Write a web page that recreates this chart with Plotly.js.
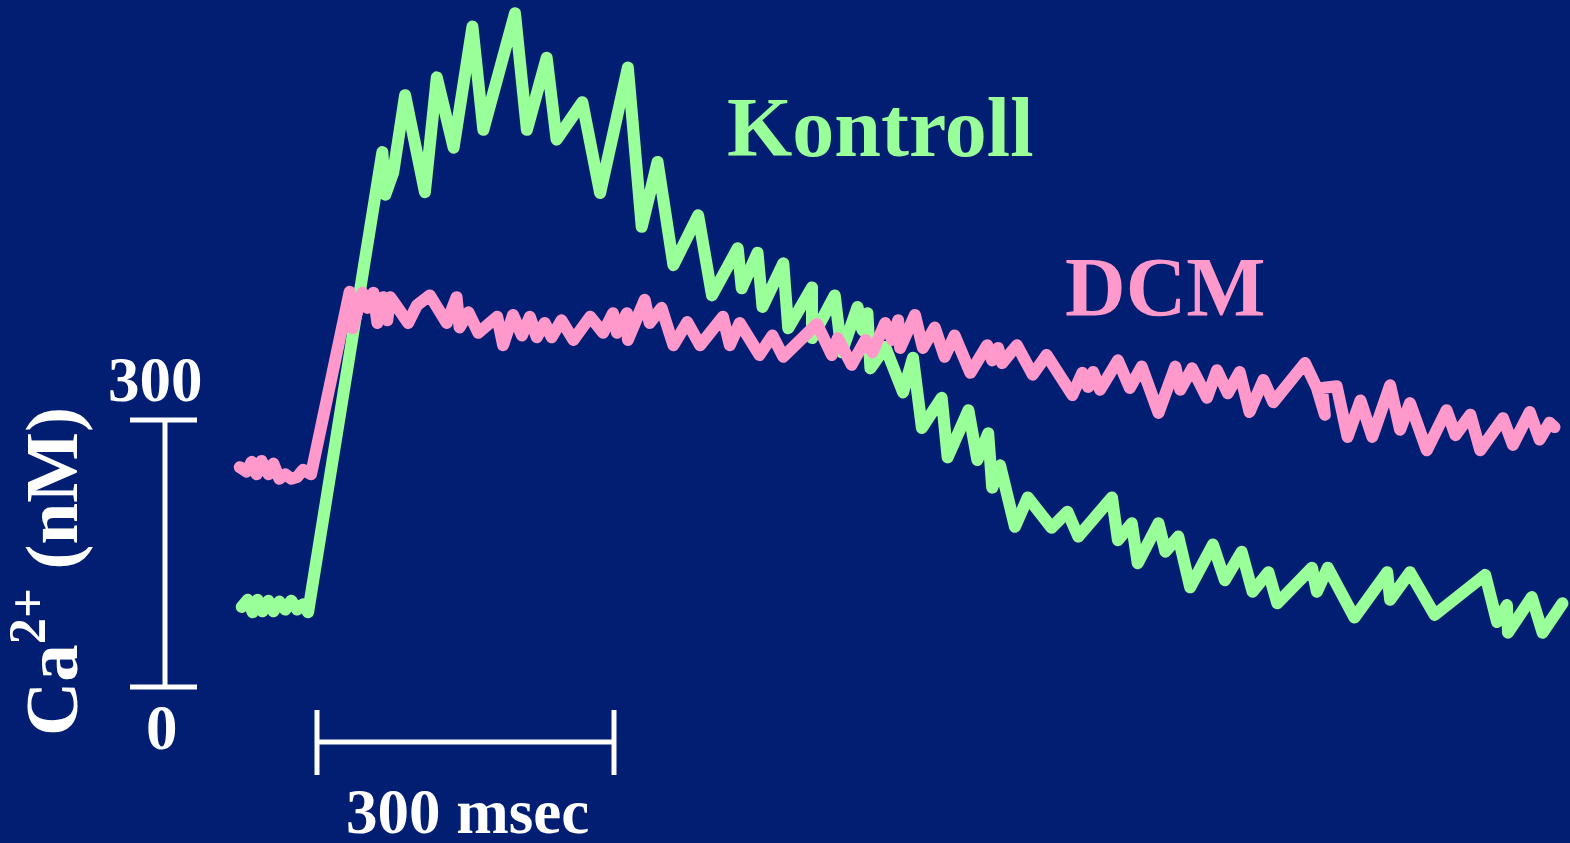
<!DOCTYPE html>
<html>
<head>
<meta charset="utf-8">
<script src="https://cdn.plot.ly/plotly-3.0.1.min.js"></script>
<style>
  html, body { margin: 0; padding: 0; background: #011e72; overflow: hidden; }
  #chart { width: 1570px; height: 843px; }
  .scatterlayer path.js-line { stroke-linejoin: round !important; stroke-linecap: round !important; }
</style>
</head>
<body>
<div id="chart"></div>
<script>
// Time (ms) and Ca2+ (nM)
const kontrollTime = [-76,-70,-65,-60,-55,-49,-44,-38,-32,-26,-20,-14,-9,
  66,69,77,89,109,121,138,157,168,200,212,232,242,268,286,314,328,344,360,385,399,425,429,445,450,471,476,500,500,
  523,530,546,551,556,559,574,592,602,611,631,637,658,667,678,682,690,705,718,742,758,769,803,809,823,829,850,857,870,882,
  905,917,934,945,961,970,1005,1010,1021,1048,1081,1084,1104,1129,1180,1192,1202,1203,1227,1238,1258];
const kontrollCa = [90,98,84,98,85,97,85,96,87,97,87,93,84,
  601,553,578,665,556,685,606,742,626,757,626,707,615,657,555,696,517,590,474,530,440,493,448,488,427,476,403,449,392,
  440,376,427,401,420,358,382,331,370,291,325,258,311,255,285,224,249,180,213,179,197,169,213,165,184,139,184,152,169,112,
  160,120,152,107,129,94,134,107,134,78,129,98,129,81,126,73,92,61,101,61,94];

const dcmTime = [-78,-71,-66,-61,-56,-49,-44,-38,-32,-26,-20,-14,-6,
  33,36,41,46,51,57,61,67,71,74,81,92,101,114,131,141,144,153,163,182,188,198,207,215,222,230,237,247,259,276,289,299,303,313,314,
  331,336,348,360,374,387,410,417,427,447,460,471,505,520,526,540,554,561,574,581,587,589,604,612,624,634,644,660,677,682,688,692,
  707,723,737,763,773,779,784,791,809,821,833,850,867,872,884,899,909,920,932,942,956,966,998,1010,1018,1015,1030,1041,1054,1066,
  1084,1094,1104,1121,1141,1150,1165,1175,1198,1208,1225,1235,1245,1250];
const dcmCa = [247,242,253,239,254,239,251,234,239,234,236,244,239,
  444,403,424,443,426,443,409,438,412,438,427,409,429,440,409,438,404,421,398,416,384,418,395,416,393,409,393,412,390,416,398,420,398,420,390,
  435,409,426,384,410,384,416,384,409,373,395,371,408,373,392,362,390,376,409,390,412,381,418,381,404,371,395,353,384,367,381,364,
  384,351,373,328,353,337,354,334,367,336,360,308,360,334,358,325,356,330,354,309,345,320,364,336,306,336,338,281,322,281,
  339,289,319,266,311,283,306,266,302,272,309,278,297,292];

const seriesNames = ["Kontroll", "DCM"];
const scaleTime = 300;   // ms
const scaleCa = 300;     // nM

const GREEN = "#99ff99";
const PINK = "#ff99cc";
const BG = "#011e72";
const WHITE = "#ffffff";
const FONT = "Liberation Serif, Times New Roman, serif";

// calibration of the canvas: 0.99 px per ms, 0.89 px per nM
const W = 1570, H = 843;
const pxPerMs = 0.99, pxPerNm = 0.89, x0px = 317, y0px = 687;
const xRange = [-x0px / pxPerMs, (W - x0px) / pxPerMs];
const yRange = [-(H - y0px) / pxPerNm, y0px / pxPerNm];
const tAt = p => (p - x0px) / pxPerMs;
const cAt = p => (y0px - p) / pxPerNm;
const px = x => x / W;
const py = y => 1 - y / H;

const traces = [
  { x: kontrollTime, y: kontrollCa, name: seriesNames[0], type: "scatter", mode: "lines",
    line: { color: GREEN, width: 12 }, hoverinfo: "skip" },
  { x: dcmTime, y: dcmCa, name: seriesNames[1], type: "scatter", mode: "lines",
    line: { color: PINK, width: 12 }, hoverinfo: "skip" }
];

const barX = tAt(165), tickL = tAt(130), tickR = tAt(197);
const barY = cAt(742), tickT = cAt(710), tickB = cAt(775);
const ln = { color: WHITE, width: 5 };
const shapes = [
  { type: "line", xref: "x", yref: "y", x0: barX, x1: barX, y0: 0, y1: scaleCa, line: ln },
  { type: "line", xref: "x", yref: "y", x0: tickL, x1: tickR, y0: 0, y1: 0, line: ln },
  { type: "line", xref: "x", yref: "y", x0: tickL, x1: tickR, y0: scaleCa, y1: scaleCa, line: ln },
  { type: "line", xref: "x", yref: "y", x0: 0, x1: scaleTime, y0: barY, y1: barY, line: ln },
  { type: "line", xref: "x", yref: "y", x0: 0, x1: 0, y0: tickT, y1: tickB, line: ln },
  { type: "line", xref: "x", yref: "y", x0: scaleTime, x1: scaleTime, y0: tickT, y1: tickB, line: ln }
];

function ann(text, x, y, size, color, extra) {
  return Object.assign({
    text: text, xref: "paper", yref: "paper", x: px(x), y: py(y),
    xanchor: "center", yanchor: "middle", showarrow: false,
    font: { family: FONT, size: size, color: color, weight: "bold" }
  }, extra || {});
}

const annotations = [
  ann(seriesNames[0], 880, 128, 84, GREEN),
  ann(seriesNames[1], 1165, 287, 84, PINK),
  ann(String(scaleCa), 155, 380, 63, WHITE),
  ann("0", 162, 728, 63, WHITE),
  ann(scaleTime + " msec", 467, 812, 63, WHITE),
  ann("Ca<sup>2+</sup> (nM)", 45, 572, 75, WHITE, { textangle: -90 })
];

const layout = {
  width: W, height: H,
  margin: { l: 0, r: 0, t: 0, b: 0, pad: 0 },
  paper_bgcolor: BG, plot_bgcolor: BG,
  showlegend: false,
  xaxis: { range: xRange, visible: false, fixedrange: true },
  yaxis: { range: yRange, visible: false, fixedrange: true },
  shapes: shapes,
  annotations: annotations
};

Plotly.newPlot("chart", traces, layout, { staticPlot: true, displayModeBar: false });
</script>
</body>
</html>
